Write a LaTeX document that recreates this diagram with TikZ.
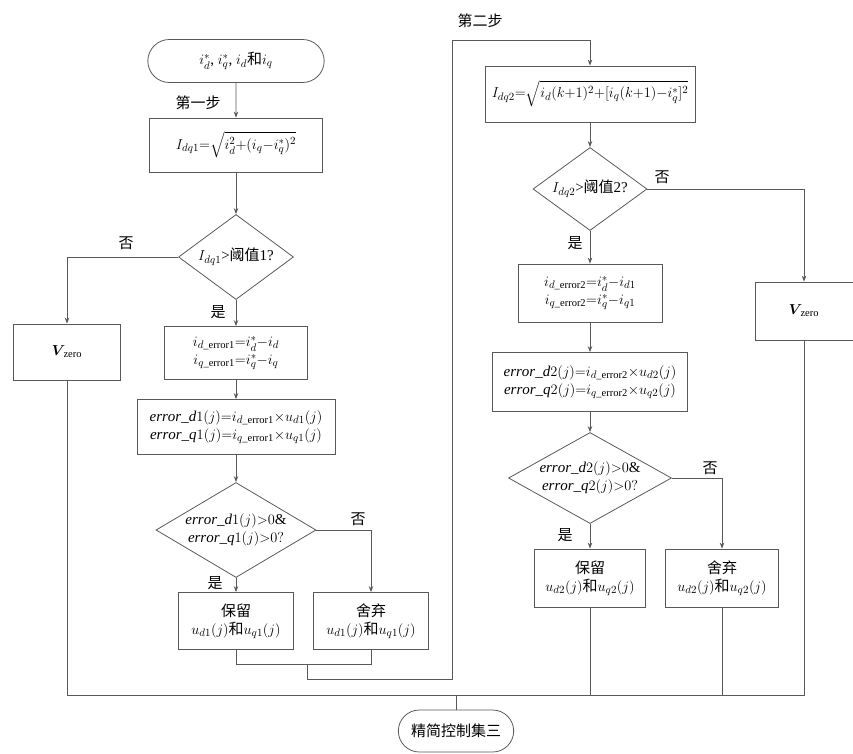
\documentclass[tikz,border=0pt]{standalone}
\usepackage{amsmath}
\usepackage{fontspec}
\setmainfont{Liberation Serif}
\newfontfamily\zhfont{Noto Sans CJK SC}
\newcommand{\zh}[1]{{\zhfont #1}}
\usetikzlibrary{shapes.geometric,shapes.misc,arrows.meta}

\begin{document}
\begin{tikzpicture}[x=1pt,y=-1pt,
  every node/.style={font=\fontsize{15}{18}\selectfont},
  line/.style={draw=black!65, line width=0.8pt},
  flow/.style={line, -{Stealth[length=6pt,width=4.5pt]}},
  box/.style={draw=black!65, line width=0.8pt, rectangle, align=center, inner sep=2pt},
  dec/.style={draw=black!65, line width=0.8pt, diamond, inner sep=0pt},
  term/.style={draw=black!65, line width=0.8pt, rounded rectangle, align=center},
  lbl/.style={inner sep=1pt}]
  \useasboundingbox (0,0) rectangle (853,753);

  % left part
  \node [term, minimum width=183pt, minimum height=43pt] (start) at (236,61)
    {$i_d^*$, $i_q^*$, $i_d$\zh{和}$i_q$};
  \node [box, minimum width=173pt, minimum height=54pt] (q1) at (236,145)
    {$I_{dq1}{=}\sqrt{i_d^2{+}(i_q{-}i_q^*)^2}$};
  \node [dec, minimum width=115pt, minimum height=85pt,
    label=center:{$I_{dq1}$>\zh{阈值}1?}] (d1) at (236,257) {};
  \node [box, minimum width=107pt, minimum height=56pt] (v1) at (67,352)
    {$\boldsymbol{V}_{\!\mathrm{zero}}$};
  \node [box, minimum width=143pt, minimum height=53pt] (e1) at (236,353)
    {$i_{d\_\mathrm{error1}}{=}i_d^*{-}i_d$\\ $i_{q\_\mathrm{error1}}{=}i_q^*{-}i_q$};
  \node [box, minimum width=198pt, minimum height=55pt] (er1) at (236,427)
    {$\mathit{error\_d}1(j){=}i_{d\_\mathrm{error1}}{\times}u_{d1}(j)$\\
     $\mathit{error\_q}1(j){=}i_{q\_\mathrm{error1}}{\times}u_{q1}(j)$};
  \node [dec, minimum width=160pt, minimum height=95pt,
    label=center:{\begin{tabular}{@{}c@{}}$\mathit{error\_d}1(j){>}0\&$\\ $\mathit{error\_q}1(j){>}0?$\end{tabular}}]
    (c1) at (236,530) {};
  \node [box, minimum width=115pt, minimum height=57pt] (keep1) at (236,621)
    {\zh{保留}\\ $u_{d1}(j)$\zh{和}$u_{q1}(j)$};
  \node [box, minimum width=115pt, minimum height=57pt] (drop1) at (371,621)
    {\zh{舍弃}\\ $u_{d1}(j)$\zh{和}$u_{q1}(j)$};

  % right part
  \node [box, minimum width=210pt, minimum height=56pt] (q2) at (590,94)
    {$I_{dq2}{=}\sqrt{i_d(k{+}1)^2{+}[i_q(k{+}1){-}i_q^*]^2}$};
  \node [dec, minimum width=114pt, minimum height=83pt,
    label=center:{$I_{dq2}$>\zh{阈值}2?}] (d2) at (590,189) {};
  \node [box, minimum width=98pt, minimum height=58pt] (v2) at (804,311)
    {$\boldsymbol{V}_{\!\mathrm{zero}}$};
  \node [box, minimum width=144pt, minimum height=58pt] (e2) at (590,293)
    {$i_{d\_\mathrm{error2}}{=}i_d^*{-}i_{d1}$\\ $i_{q\_\mathrm{error2}}{=}i_q^*{-}i_{q1}$};
  \node [box, minimum width=195pt, minimum height=59pt] (er2) at (590,382)
    {$\mathit{error\_d}2(j){=}i_{d\_\mathrm{error2}}{\times}u_{d2}(j)$\\
     $\mathit{error\_q}2(j){=}i_{q\_\mathrm{error2}}{\times}u_{q2}(j)$};
  \node [dec, minimum width=163pt, minimum height=91pt,
    label=center:{\begin{tabular}{@{}c@{}}$\mathit{error\_d}2(j){>}0\&$\\ $\mathit{error\_q}2(j){>}0?$\end{tabular}}]
    (c2) at (590,478) {};
  \node [box, minimum width=111pt, minimum height=58pt] (keep2) at (590,578)
    {\zh{保留}\\ $u_{d2}(j)$\zh{和}$u_{q2}(j)$};
  \node [box, minimum width=113pt, minimum height=58pt] (drop2) at (722,578)
    {\zh{舍弃}\\ $u_{d2}(j)$\zh{和}$u_{q2}(j)$};

  \node [term, minimum width=122pt, minimum height=42pt] (final) at (456,731)
    {\zh{精简控制集三}};

  % labels
  \node [lbl] (s1) at (198,103) {\zh{第一步}};
  \node [lbl] (s2) at (480,21) {\zh{第二步}};
  \node [lbl] (n1) at (126,243) {\zh{否}};
  \node [lbl] (y1) at (218,312) {\zh{是}};
  \node [lbl] (n2) at (358,519) {\zh{否}};
  \node [lbl] (y2) at (215,583) {\zh{是}};
  \node [lbl] (n3) at (662,177) {\zh{否}};
  \node [lbl] (y3) at (575,243) {\zh{是}};
  \node [lbl] (n4) at (710,468) {\zh{否}};
  \node [lbl] (y4) at (565,535) {\zh{是}};

  \coordinate (j1) at (307,664);
  \coordinate (j1b) at (307,679);
  \coordinate (top) at (452,40);
  \coordinate (busL) at (67,695);
  \coordinate (busR) at (804,695);

  \draw [flow] (start) -- (q1);
  \draw [flow] (q1) -- (d1);
  \draw [flow] (d1.west) -| (v1.north);
  \draw [flow] (d1) -- (e1);
  \draw [flow] (e1) -- (er1);
  \draw [flow] (er1) -- (c1);
  \draw [flow] (c1.east) -| (drop1.north);
  \draw [flow] (c1) -- (keep1);
  \draw [line] (keep1.south) |- (j1) -| (drop1.south);
  \draw [flow] (j1) -- (j1b) -| (top) -| (q2.north);

  \draw [flow] (q2) -- (d2);
  \draw [flow] (d2.east) -| (v2.north);
  \draw [flow] (d2) -- (e2);
  \draw [flow] (e2) -- (er2);
  \draw [flow] (er2) -- (c2);
  \draw [flow] (c2.east) -| (drop2.north);
  \draw [flow] (c2) -- (keep2);

  \draw [line] (v1.south) -- (busL) -- (busR) -- (v2.south);
  \draw [line] (keep2.south) -- (keep2.south |- busL);
  \draw [line] (drop2.south) -- (drop2.south |- busL);
  \draw [line] (final.north |- busL) -- (final.north);
\end{tikzpicture}
\end{document}
